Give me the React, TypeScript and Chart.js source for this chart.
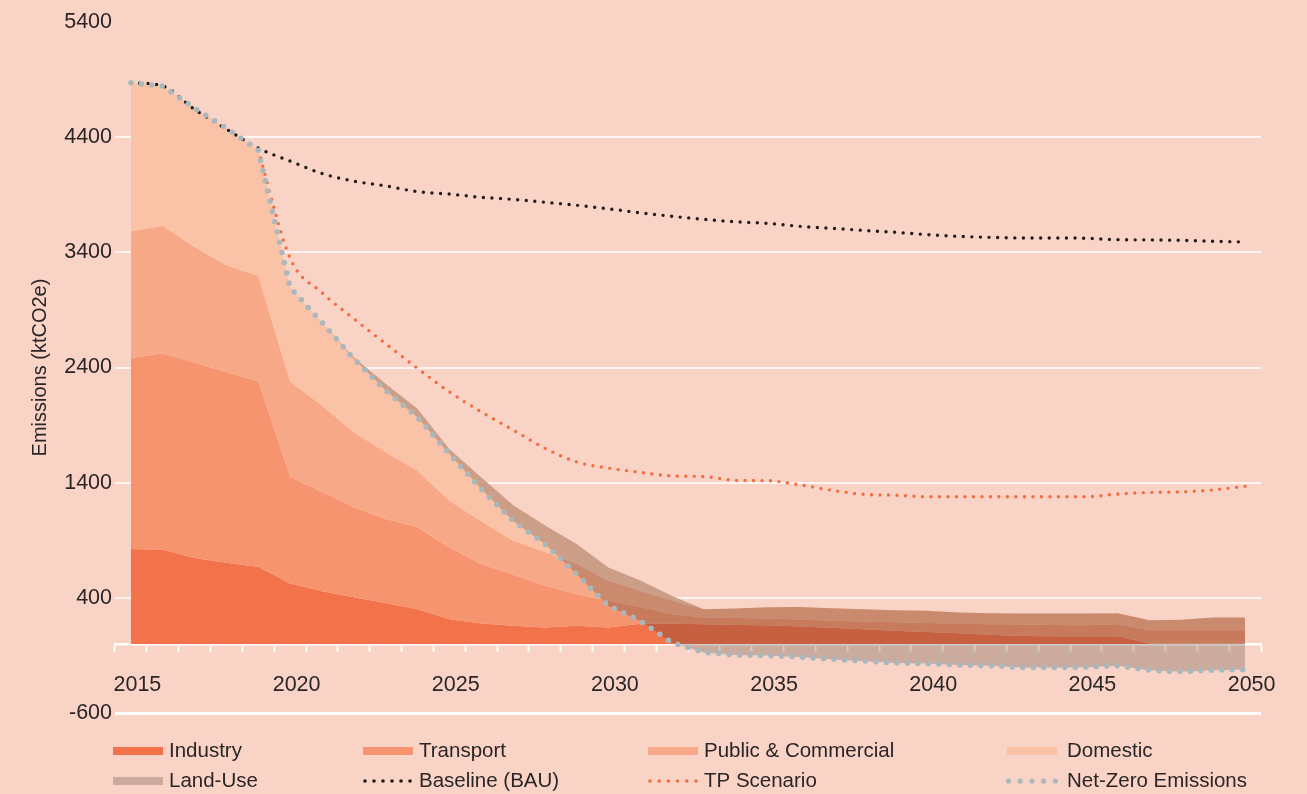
import React, { useEffect, useRef } from 'react';
import { Chart, registerables } from 'chart.js';

Chart.register(...registerables);

// ---------------- data ----------------
const years = [
  2015, 2016, 2017, 2018, 2019, 2020, 2021, 2022, 2023, 2024,
  2025, 2026, 2027, 2028, 2029, 2030, 2031, 2032, 2033, 2034,
  2035, 2036, 2037, 2038, 2039, 2040, 2041, 2042, 2043, 2044,
  2045, 2046, 2047, 2048, 2049, 2050,
];

const industry = [
  823, 817, 745, 705, 670, 525, 458, 405, 355, 301,
  215, 177, 157, 142, 157, 142, 175, 175, 170, 165,
  163, 152, 140, 128, 115, 104, 93, 80, 68, 66,
  66, 66, 3, 3, 3, 3,
];

const transport = [
  1658, 1707, 1696, 1655, 1608, 927, 862, 781, 729, 711,
  623, 516, 446, 366, 275, 232, 145, 83, 59, 59,
  57, 60, 62, 67, 73, 78, 83, 91, 100, 99,
  96, 105, 116, 116, 116, 116,
];

const publicCommercial = [
  1102, 1105, 1005, 927, 916, 826, 750, 652, 580, 492,
  405, 372, 293, 292, 261, 174, 141, 116, 72, 83,
  98, 108, 108, 106, 105, 105, 96, 96, 96, 99,
  102, 96, 87, 90, 110, 110,
];

const domestic = [
  1289, 1214, 1206, 1191, 1093, 818, 721, 652, 594, 537,
  450, 381, 310, 230, 174, 116, 89, 43, 0, 0,
  0, 0, 0, 0, 0, 0, 0, 0, 0, 0,
  0, 0, 0, 0, 0, 0,
];

const netZero = [
  4872, 4843, 4652, 4478, 4287, 3096, 2791, 2475, 2200, 1968,
  1650, 1345, 1070, 867, 606, 330, 200, 10, -74, -96,
  -101, -113, -133, -148, -165, -171, -183, -189, -206, -206,
  -203, -189, -229, -241, -229, -223,
];

const baseline = [
  4872, 4845, 4641, 4470, 4305, 4192, 4085, 4018, 3977, 3927,
  3906, 3878, 3860, 3835, 3809, 3778, 3743, 3713, 3687, 3665,
  3652, 3626, 3609, 3591, 3574, 3554, 3539, 3530, 3525, 3525,
  3522, 3510, 3508, 3504, 3496, 3490,
];

const tpScenario = [
  null, null, null, null, 4290, 3350, 3050, 2824, 2607, 2393,
  2189, 2015, 1858, 1700, 1580, 1526, 1490, 1458, 1453, 1420,
  1417, 1382, 1335, 1299, 1291, 1278, 1278, 1278, 1278, 1278,
  1278, 1302, 1315, 1320, 1337, 1368,
];

const yTicks = [-600, 400, 1400, 2400, 3400, 4400, 5400];
const xLabelEvery = 5;

// ---------------- styles ----------------
const FONT_REG = "'Liberation Sans', Arial, sans-serif";
const TICK_SIZE = 21.5;
const BG = '#F9D4C6';
const TEXT = '#2A2526';
const C_INDUSTRY = '#F2724A';
const C_TRANSPORT = '#F5946F';
const C_PUBLIC = '#F7A987';
const C_DOMESTIC = '#FAC2A7';
const C_LANDUSE = 'rgba(60,40,35,0.24)';
const C_BASELINE = '#1E1A1A';
const C_TP = '#F26C3E';
const C_NET = '#A9B8BD';

// legend layout
const LEG_SWATCH_X = [113, 363, 648, 1007];
const LEG_TEXT_X = [169, 419, 704, 1067];
const LEG_ROW_Y = [751, 781];

type LegendItem = { ds: number; row: number; col: number; kind: 'bar' | 'dots'; n?: number; step?: number; r?: number; x0?: number };
const legendItems: LegendItem[] = [
  { ds: 0, row: 0, col: 0, kind: 'bar' },
  { ds: 1, row: 0, col: 1, kind: 'bar' },
  { ds: 2, row: 0, col: 2, kind: 'bar' },
  { ds: 3, row: 0, col: 3, kind: 'bar' },
  { ds: 4, row: 1, col: 0, kind: 'bar' },
  { ds: 6, row: 1, col: 1, kind: 'dots', n: 6, step: 9, r: 1.8, x0: 365 },
  { ds: 5, row: 1, col: 2, kind: 'dots', n: 6, step: 9.2, r: 1.8, x0: 650 },
  { ds: 7, row: 1, col: 3, kind: 'dots', n: 5, step: 11.7, r: 2.6, x0: 1008.5 },
];

const legendPlugin = {
  id: 'customLegend',
  afterDraw(chart: any) {
    const ctx = chart.ctx;
    ctx.save();
    legendItems.forEach((it) => {
      const ds = chart.data.datasets[it.ds];
      const y = LEG_ROW_Y[it.row];
      if (it.kind === 'bar') {
        ctx.fillStyle = ds.backgroundColor;
        ctx.fillRect(LEG_SWATCH_X[it.col], y - 4, 50, 8);
      } else {
        ctx.fillStyle = ds.borderColor;
        for (let k = 0; k < (it.n || 0); k++) {
          ctx.beginPath();
          ctx.arc((it.x0 || 0) + k * (it.step || 0), y, it.r || 2, 0, Math.PI * 2);
          ctx.fill();
        }
      }
      ctx.fillStyle = TEXT;
      ctx.font = `20.5px ${FONT_REG}`;
      ctx.textBaseline = 'middle';
      ctx.textAlign = 'left';
      ctx.fillText(ds.label, LEG_TEXT_X[it.col], y);
    });
    ctx.restore();
  },
};

export default function App() {
  const canvasRef = useRef<HTMLCanvasElement>(null);

  useEffect(() => {
    if (!canvasRef.current) return;
    const cumT = years.map((_, i) => industry[i] + transport[i]);
    const cumP = years.map((_, i) => cumT[i] + publicCommercial[i]);
    const gross = years.map((_, i) => cumP[i] + domestic[i]);

    const area = (label: string, data: number[], color: string, fill: any, order: number) => ({
      type: 'line' as const,
      label,
      data,
      backgroundColor: color,
      borderColor: 'rgba(0,0,0,0)',
      borderWidth: 0,
      pointRadius: 0,
      tension: 0,
      fill,
      order,
    });

    const dotted = (label: string, data: (number | null)[], color: string, width: number, gap: number, order: number, smooth: boolean) => ({
      type: 'line' as const,
      label,
      data,
      borderColor: color,
      backgroundColor: color,
      borderWidth: width,
      borderDash: [0, gap],
      borderCapStyle: 'round' as const,
      borderJoinStyle: 'round' as const,
      pointRadius: 0,
      fill: false,
      tension: 0,
      cubicInterpolationMode: smooth ? ('monotone' as const) : ('default' as const),
      order,
    });

    const chart = new Chart(canvasRef.current, {
      type: 'line',
      data: {
        labels: years.map(String),
        datasets: [
          area('Industry', industry, C_INDUSTRY, 'origin', 7),
          area('Transport', cumT, C_TRANSPORT, '-1', 6),
          area('Public & Commercial', cumP, C_PUBLIC, '-1', 5),
          area('Domestic', gross, C_DOMESTIC, '-1', 4),
          area('Land-Use', netZero, C_LANDUSE, 3, 3),
          dotted('TP Scenario', tpScenario, C_TP, 3.4, 8.5, 2, true),
          dotted('Baseline (BAU)', baseline, C_BASELINE, 3.4, 8.6, 1, true),
          dotted('Net-Zero Emissions', netZero, C_NET, 5.5, 10.5, 0, false),
        ] as any,
      },
      options: {
        responsive: false,
        animation: false,
        layout: { padding: { left: 0, top: 22, right: 46, bottom: 81 } },
        plugins: {
          legend: { display: false },
          tooltip: { enabled: false },
        },
        scales: {
          x: {
            type: 'category',
            position: { y: 0 } as any,
            offset: true,
            z: 1,
            grid: {
              offset: true,
              drawOnChartArea: false,
              drawTicks: true,
              tickLength: 6,
              tickColor: '#FFFFFF',
              tickWidth: 2,
            },
            border: { display: true, color: '#FFFFFF', width: 2.5 },
            ticks: {
              autoSkip: false,
              maxRotation: 0,
              minRotation: 0,
              padding: 22,
              labelOffset: 6.5,
              color: TEXT,
              font: { family: FONT_REG, size: TICK_SIZE },
              callback: (_v: any, i: number) => (years[i] % xLabelEvery === 0 ? String(years[i]) : ''),
            },
          },
          y: {
            type: 'linear',
            min: -600,
            max: 5400,
            z: 1,
            afterBuildTicks: (s: any) => {
              s.ticks = yTicks.map((v) => ({ value: v }));
            },
            afterFit: (s: any) => {
              s.width = 115;
            },
            grid: {
              drawTicks: false,
              color: (c: any) =>
                c.tick && c.tick.value === -600
                  ? '#FFFFFF'
                  : c.tick && c.tick.value === 5400
                  ? 'rgba(0,0,0,0)'
                  : 'rgba(255,255,255,0.75)',
              lineWidth: (c: any) => (c.tick && c.tick.value === -600 ? 3 : 2),
            },
            border: { display: false },
            ticks: {
              padding: 3,
              color: TEXT,
              font: { family: FONT_REG, size: TICK_SIZE },
              callback: (v: any) => String(v),
            },
            title: {
              display: true,
              text: 'Emissions (ktCO2e)',
              color: TEXT,
              font: { family: FONT_REG, size: 20 },
              padding: { top: 28, bottom: 0 },
            },
          },
        },
      },
      plugins: [legendPlugin],
    });

    return () => chart.destroy();
  }, []);

  return (
    <div style={{ position: 'fixed', left: 0, top: 0, width: 1307, height: 794, background: BG }}>
      <canvas ref={canvasRef} width={1307} height={794} style={{ display: 'block' }} />
    </div>
  );
}
